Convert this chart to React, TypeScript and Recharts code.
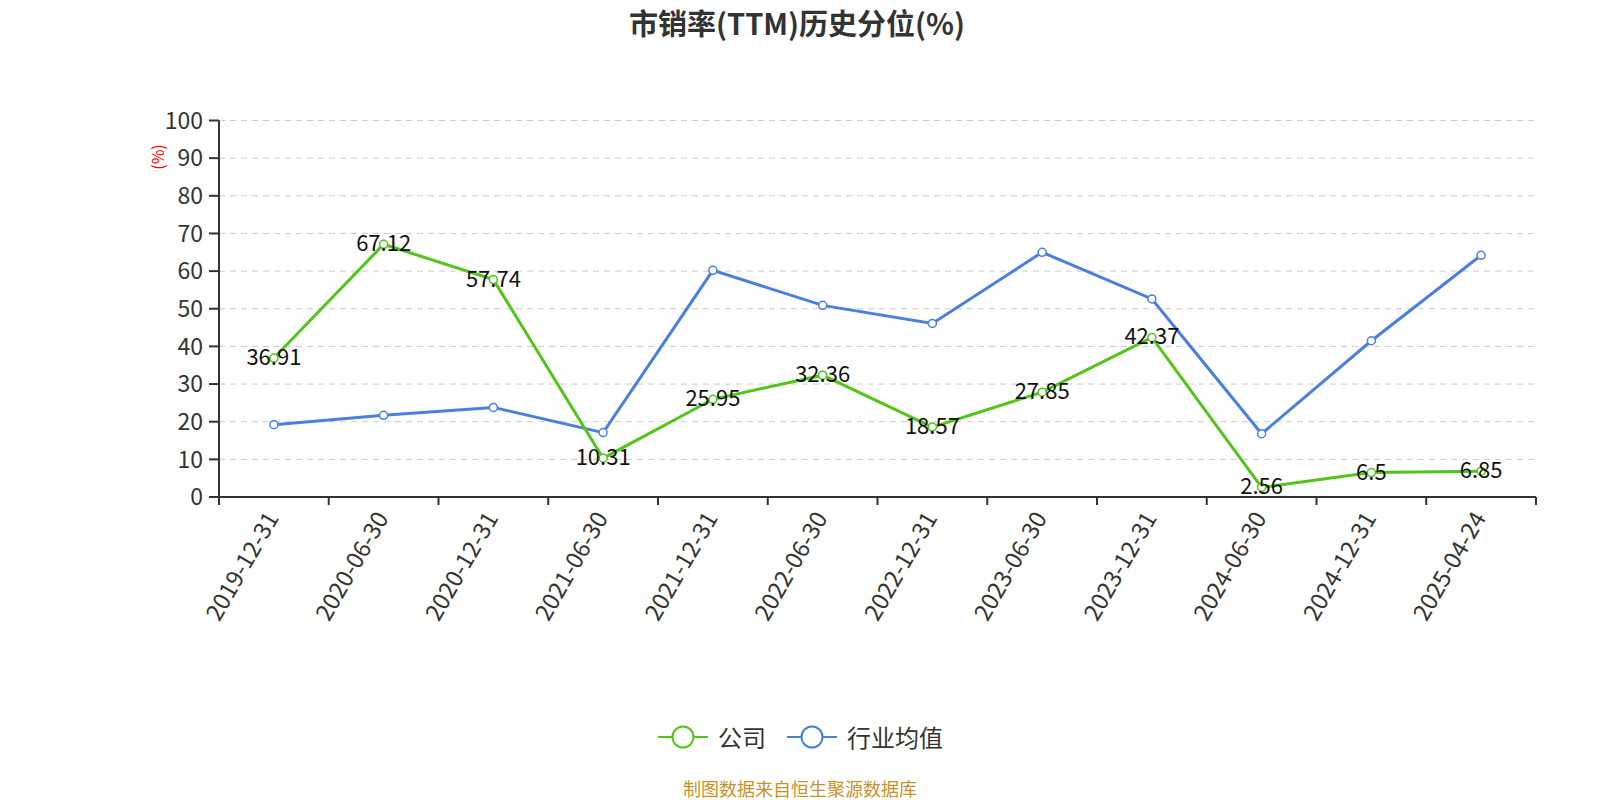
import { LineChart, Line, XAxis, YAxis, CartesianGrid, LabelList } from 'recharts'

const dates = [
  '2019-12-31', '2020-06-30', '2020-12-31', '2021-06-30', '2021-12-31', '2022-06-30',
  '2022-12-31', '2023-06-30', '2023-12-31', '2024-06-30', '2024-12-31', '2025-04-24'
]
const company = [36.91, 67.12, 57.74, 10.31, 25.95, 32.36, 18.57, 27.85, 42.37, 2.56, 6.5, 6.85]
const industry = [19.2, 21.7, 23.8, 17.1, 60.2, 50.9, 46.1, 65.0, 52.6, 16.8, 41.5, 64.2]
const yTicks = [0, 10, 20, 30, 40, 50, 60, 70, 80, 90, 100]

const GREEN = '#52c41a'
const BLUE = '#4a7fe0'
const FONT = '"Noto Sans CJK SC", "Open Sans", sans-serif'

const chartData = dates.map((d, i) => ({ date: d, company: company[i], industry: industry[i] }))

const BAND = 1317 / dates.length

// x tick: label at the point, tick mark at band boundary
function XTick(props: any) {
  const { x, y, payload, index } = props
  return (
    <g>
      <line x1={x - BAND / 2} y1={y - 8} x2={x - BAND / 2} y2={y} stroke="#333" strokeWidth={2} />
      {index === dates.length - 1 && (
        <line x1={x + BAND / 2} y1={y - 8} x2={x + BAND / 2} y2={y} stroke="#333" strokeWidth={2} />
      )}
      <text
        x={x - 3}
        y={y + 8}
        transform={`rotate(-60 ${x - 3} ${y + 8})`}
        textAnchor="end"
        dominantBaseline="central"
        fontSize={23.5}
        fill="#333"
        fontFamily={FONT}
      >
        {payload.value}
      </text>
    </g>
  )
}

function ValueLabel(props: any) {
  const { x, y, value } = props
  return (
    <text x={x} y={y - 3} textAnchor="middle" dominantBaseline="central" fontSize={22} fill="#111" fontFamily={FONT}>
      {value}
    </text>
  )
}

function LegendIcon({ color, left }: { color: string; left: number }) {
  return (
    <svg width={50} height={30} style={{ position: 'absolute', left, top: 722 }}>
      <line x1={0} y1={15} x2={50} y2={15} stroke={color} strokeWidth={2} />
      <circle cx={25} cy={15} r={10.5} fill="#fff" stroke={color} strokeWidth={2} />
    </svg>
  )
}

const legendText = { position: 'absolute' as const, top: 722, lineHeight: '30px', fontSize: 24, color: '#333', whiteSpace: 'nowrap' as const }

export default function App() {
  return (
    <div style={{ position: 'absolute', left: 0, top: 0, width: 1600, height: 800, background: '#fff', fontFamily: FONT, overflow: 'hidden' }}>
      <style>{'html,body{margin:0;padding:0;overflow:hidden}'}</style>
      <div style={{ position: 'absolute', top: 0, left: 0, width: 1594, lineHeight: '44px', textAlign: 'center', fontSize: 29, fontWeight: 'bold', color: '#333' }}>
        市销率(TTM)历史分位(%)
      </div>
      <div
        style={{
          position: 'absolute', left: 137, top: 145, width: 40, height: 24, color: 'red', fontSize: 16, textAlign: 'center',
          transform: 'rotate(-90deg)', whiteSpace: 'nowrap', lineHeight: '24px'
        }}
      >
        (%)
      </div>
      <LineChart
        width={1600}
        height={800}
        data={chartData}
        margin={{ top: 120.5, right: 64, left: 159, bottom: 153 }}
      >
        <CartesianGrid vertical={false} stroke="#ccc" strokeDasharray="6 5" />
        <XAxis
          dataKey="date"
          interval={0}
          height={150}
          padding={{ left: BAND / 2, right: BAND / 2 }}
          tickLine={false}
          tickSize={6}
          axisLine={{ stroke: '#333', strokeWidth: 2 }}
          tick={<XTick />}
        />
        <YAxis
          width={60}
          domain={[0, 100]}
          ticks={yTicks}
          interval={0}
          tickSize={10}
          tickMargin={6}
          axisLine={{ stroke: '#333', strokeWidth: 2 }}
          tickLine={{ stroke: '#333', strokeWidth: 2 }}
          tick={{ fontSize: 23, fill: '#333', fontFamily: FONT }}
        />
        <Line
          type="linear"
          dataKey="industry"
          stroke={BLUE}
          strokeWidth={3}
          dot={{ r: 4, fill: '#fff', stroke: BLUE, strokeWidth: 1.5 }}
          isAnimationActive={false}
        />
        <Line
          type="linear"
          dataKey="company"
          stroke={GREEN}
          strokeWidth={3}
          dot={{ r: 4, fill: '#fff', stroke: GREEN, strokeWidth: 1.5 }}
          isAnimationActive={false}
        >
          <LabelList dataKey="company" content={<ValueLabel />} />
        </Line>
      </LineChart>
      <LegendIcon color={GREEN} left={658} />
      <div style={{ ...legendText, left: 718 }}>公司</div>
      <LegendIcon color={BLUE} left={787} />
      <div style={{ ...legendText, left: 847 }}>行业均值</div>
      <div style={{ position: 'absolute', top: 776, left: 0, width: 1600, lineHeight: '24px', textAlign: 'center', fontSize: 18, color: '#c8922a' }}>
        制图数据来自恒生聚源数据库
      </div>
    </div>
  )
}
